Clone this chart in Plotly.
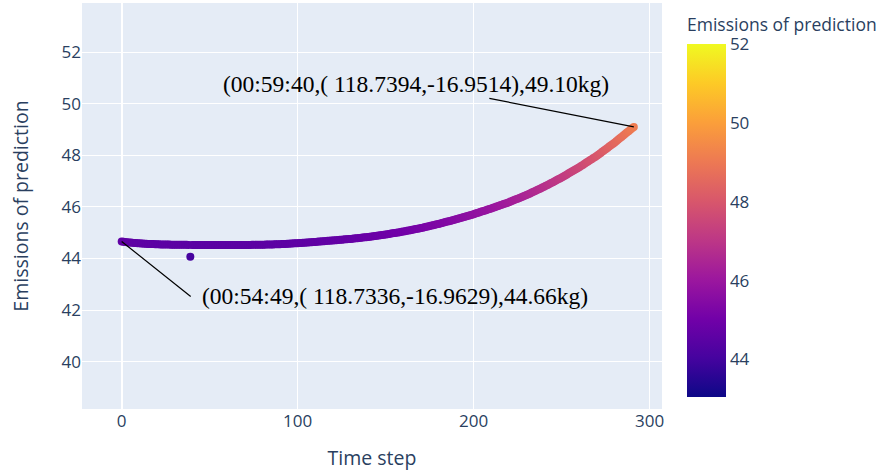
import plotly.graph_objects as go

# Predicted emissions (kg) for each time step 0..291
emissions = [
    44.660, 44.650, 44.640, 44.632, 44.624, 44.617, 44.610, 44.604, 44.598, 44.593,
    44.588, 44.583, 44.579, 44.575, 44.571, 44.567, 44.564, 44.561, 44.558, 44.555,
    44.552, 44.550, 44.548, 44.546, 44.544, 44.542, 44.540, 44.539, 44.538, 44.537,
    44.536, 44.535, 44.534, 44.533, 44.532, 44.531, 44.530, 44.529, 44.528, 44.070,
    44.527, 44.527, 44.526, 44.526, 44.525, 44.525, 44.524, 44.524, 44.523, 44.523,
    44.523, 44.522, 44.522, 44.522, 44.521, 44.521, 44.521, 44.521, 44.520, 44.520,
    44.520, 44.520, 44.521, 44.521, 44.522, 44.522, 44.523, 44.523, 44.524, 44.524,
    44.525, 44.526, 44.527, 44.528, 44.529, 44.530, 44.531, 44.532, 44.533, 44.534,
    44.535, 44.537, 44.539, 44.541, 44.543, 44.545, 44.547, 44.549, 44.551, 44.553,
    44.555, 44.559, 44.563, 44.567, 44.571, 44.575, 44.579, 44.583, 44.587, 44.591,
    44.595, 44.600, 44.605, 44.610, 44.615, 44.620, 44.625, 44.630, 44.635, 44.640,
    44.645, 44.651, 44.656, 44.662, 44.667, 44.673, 44.678, 44.684, 44.689, 44.695,
    44.700, 44.706, 44.712, 44.718, 44.724, 44.730, 44.736, 44.742, 44.748, 44.754,
    44.760, 44.768, 44.775, 44.783, 44.790, 44.798, 44.805, 44.813, 44.820, 44.828,
    44.835, 44.845, 44.854, 44.864, 44.873, 44.883, 44.892, 44.902, 44.911, 44.921,
    44.930, 44.942, 44.953, 44.965, 44.976, 44.988, 44.999, 45.011, 45.022, 45.034,
    45.045, 45.059, 45.072, 45.086, 45.099, 45.113, 45.126, 45.140, 45.153, 45.167,
    45.180, 45.196, 45.212, 45.228, 45.244, 45.260, 45.276, 45.292, 45.308, 45.324,
    45.340, 45.358, 45.376, 45.394, 45.412, 45.430, 45.448, 45.466, 45.484, 45.502,
    45.520, 45.540, 45.560, 45.580, 45.600, 45.620, 45.640, 45.660, 45.680, 45.700,
    45.720, 45.742, 45.764, 45.786, 45.808, 45.830, 45.852, 45.874, 45.896, 45.918,
    45.940, 45.964, 45.988, 46.012, 46.036, 46.060, 46.084, 46.108, 46.132, 46.156,
    46.180, 46.208, 46.236, 46.264, 46.292, 46.320, 46.348, 46.376, 46.404, 46.432,
    46.460, 46.492, 46.524, 46.556, 46.588, 46.620, 46.652, 46.684, 46.716, 46.748,
    46.780, 46.816, 46.852, 46.888, 46.924, 46.960, 46.996, 47.032, 47.068, 47.104,
    47.140, 47.180, 47.220, 47.260, 47.300, 47.340, 47.380, 47.420, 47.460, 47.500,
    47.540, 47.584, 47.628, 47.672, 47.716, 47.760, 47.804, 47.848, 47.892, 47.936,
    47.980, 48.031, 48.082, 48.133, 48.184, 48.235, 48.286, 48.337, 48.388, 48.439,
    48.490, 48.546, 48.601, 48.657, 48.712, 48.768, 48.823, 48.879, 48.934, 48.990,
    49.045, 49.100,
]
time_steps = list(range(len(emissions)))

start_label = "(00:54:49,( 118.7336,-16.9629),44.66kg)"
end_label = "(00:59:40,( 118.7394,-16.9514),49.10kg)"
axis_x_title = "Time step"
axis_y_title = "Emissions of prediction"
color_title = "Emissions of prediction"
color_range = [43.05, 52]

fig = go.Figure(
    go.Scatter(
        x=time_steps,
        y=emissions,
        mode="markers",
        marker=dict(
            size=8,
            color=emissions,
            colorscale="Plasma",
            cmin=color_range[0],
            cmax=color_range[1],
            colorbar=dict(
                title=dict(text=color_title, font=dict(size=17.5)),
                tickfont=dict(size=17),
                thickness=39,
                x=1.0,
                xanchor="left",
                xpad=25,
                y=1.0,
                yanchor="top",
                len=1.0,
                ypad=12,
                outlinewidth=0,
                tickvals=[44, 46, 48, 50, 52],
            ),
        ),
        showlegend=False,
    )
)

ann_font = dict(family="Liberation Serif, Times New Roman, serif", size=23.5, color="black")
fig.add_annotation(
    x=time_steps[0], y=emissions[0], text=start_label,
    showarrow=True, arrowhead=0, arrowwidth=1.2, arrowcolor="black",
    ax=69, ay=55, xanchor="left", borderpad=10, font=ann_font,
)
fig.add_annotation(
    x=time_steps[-1], y=emissions[-1], text=end_label,
    showarrow=True, arrowhead=0, arrowwidth=1.2, arrowcolor="black",
    ax=-218, ay=-43, font=ann_font,
)

fig.update_layout(
    template="plotly",
    width=879,
    height=472,
    margin=dict(l=82, r=217, t=3, b=63, autoexpand=False),
    font=dict(family="Open Sans, verdana, arial, sans-serif"),
    xaxis=dict(
        title=dict(text=axis_x_title, font=dict(size=19.5), standoff=20),
        range=[-22.55, 307.0],
        tickfont=dict(size=17),
        automargin=False,
        tickvals=[0, 100, 200, 300],
    ),
    yaxis=dict(
        title=dict(text=axis_y_title, font=dict(size=19.5), standoff=27),
        range=[38.17, 53.90],
        tickfont=dict(size=17),
        automargin=False,
        tickvals=[40, 42, 44, 46, 48, 50, 52],
    ),
)

fig.write_html(
    "out.html",
    config={"displayModeBar": False},
    post_script="document.body.style.margin='0px';",
)
